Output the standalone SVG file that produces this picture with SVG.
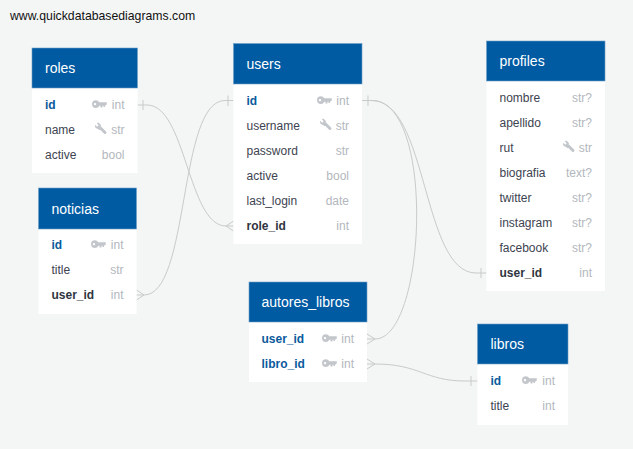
<svg xmlns="http://www.w3.org/2000/svg" width="633" height="449" viewBox="0 0 633 449">
<style>
text{font-family:"Liberation Sans",Arial,sans-serif}
.bg{fill:#f4f6f6}
.body{fill:#fff}
.head{fill:#005ba3;stroke:#6f9fc6;stroke-width:.6}
.title{font-size:14px;fill:#fff}
.f{font-size:12px;fill:#3d4350}
.pk{font-size:12px;font-weight:700;fill:#0b5a9c}
.fk{font-size:12px;font-weight:700;fill:#2f3540}
.t{font-size:12px;fill:#b3b7bd;text-anchor:end}
.c{fill:none;stroke:#c9caca;stroke-width:1}
.i{fill:#c3c7cc}
.w{fill:none;stroke:#c3c7cc;stroke-width:3;stroke-linecap:round}
</style>
<defs>
<g id="key"><path class="i" fill-rule="evenodd" d="M3.900-4.300A3.900 3.900 0 1 0 3.900 3.500 3.900 3.900 0 0 0 7.400 1.200H8.500V3H10.500V1.200H11.500V2.400H13V1.200L14.800-.1V-2.300H7.300A3.900 3.900 0 0 0 3.900-4.300ZM3-1.600A1.200 1.200 0 1 1 3 .8 1.200 1.200 0 0 1 3-1.600Z"/></g>
<g id="wrench"><path class="w" d="M4-1.500 9 3.500"/><path class="i" d="M2.600-6.200 5.200-3.700 4-2.500 5.500-.6 5.400 1 3.400 1 1.500-.3C-.4-.4-1.500-2.300-.9-4.300L1.200-2.300 2.700-3.700 .8-5.800C1.400-6.200 2-6.300 2.600-6.200Z"/></g>
</defs>
<rect class="bg" width="633" height="449"/>
<text x="10" y="20" style="font-size:12.250px;fill:#111">www.quickdatabasediagrams.com</text>
<g id="connectors">
<path class="c" d="M137.500 105H147C186 105 188 226 226 226H233.500M226 226 233.500 221M226 226 233.500 231M143 100V110"/>
<path class="c" d="M136.500 295H144C190 295 178 100.500 225 100.500H233.500M144 295 136.500 290M144 295 136.500 300M228 95.500V106"/>
<path class="c" d="M362 100.500H372C428 100.500 422 273 476 273H486.500M368 95.500V106M481 268V278"/>
<path class="c" d="M362 100.500H372C436 100.500 426 339 375 339H367M375 339 367 334M375 339 367 344"/>
<path class="c" d="M367 364H375C420 364 425 381 465 381H477.500M375 364 367 359M375 364 367 369M471 376V386"/>
</g>
<g id="roles">
<rect class="body" x="32" y="48" width="105.500" height="125"/><rect class="head" x="32" y="48" width="105.500" height="40"/>
<text class="title" x="45" y="73">roles</text>
<text class="pk" x="45" y="109">id</text><use href="#key" x="92" y="104.500"/><text class="t" x="124.500" y="109">int</text>
<text class="f" x="45" y="134">name</text><use href="#wrench" x="96" y="129"/><text class="t" x="124.500" y="134">str</text>
<text class="f" x="45" y="159">active</text><text class="t" x="124.500" y="159">bool</text>
</g>
<g id="noticias">
<rect class="body" x="38.500" y="188" width="98" height="126"/><rect class="head" x="38.500" y="188" width="98" height="41"/>
<text class="title" x="51.500" y="214">noticias</text>
<text class="pk" x="51.500" y="249">id</text><use href="#key" x="91" y="244.500"/><text class="t" x="123.500" y="249">int</text>
<text class="f" x="51.500" y="274">title</text><text class="t" x="123.500" y="274">str</text>
<text class="fk" x="51.500" y="299">user_id</text><text class="t" x="123.500" y="299">int</text>
</g>
<g id="users">
<rect class="body" x="233.500" y="43.500" width="128.500" height="200.500"/><rect class="head" x="233.500" y="43.500" width="128.500" height="40.500"/>
<text class="title" x="246.500" y="69">users</text>
<text class="pk" x="246.500" y="105">id</text><use href="#key" x="317" y="100.500"/><text class="t" x="349" y="105">int</text>
<text class="f" x="246.500" y="130">username</text><use href="#wrench" x="321" y="125"/><text class="t" x="349" y="130">str</text>
<text class="f" x="246.500" y="155">password</text><text class="t" x="349" y="155">str</text>
<text class="f" x="246.500" y="180">active</text><text class="t" x="349" y="180">bool</text>
<text class="f" x="246.500" y="205">last_login</text><text class="t" x="349" y="205">date</text>
<text class="fk" x="246.500" y="230">role_id</text><text class="t" x="349" y="230">int</text>
</g>
<g id="profiles">
<rect class="body" x="486.500" y="41" width="118.500" height="250"/><rect class="head" x="486.500" y="41" width="118.500" height="40"/>
<text class="title" x="499.500" y="66">profiles</text>
<text class="f" x="499.500" y="102">nombre</text><text class="t" x="592" y="102">str?</text>
<text class="f" x="499.500" y="127">apellido</text><text class="t" x="592" y="127">str?</text>
<text class="f" x="499.500" y="152">rut</text><use href="#wrench" x="564" y="147"/><text class="t" x="592" y="152">str</text>
<text class="f" x="499.500" y="177">biografia</text><text class="t" x="592" y="177">text?</text>
<text class="f" x="499.500" y="202">twitter</text><text class="t" x="592" y="202">str?</text>
<text class="f" x="499.500" y="227">instagram</text><text class="t" x="592" y="227">str?</text>
<text class="f" x="499.500" y="252">facebook</text><text class="t" x="592" y="252">str?</text>
<text class="fk" x="499.500" y="277">user_id</text><text class="t" x="592" y="277">int</text>
</g>
<g id="autores_libros">
<rect class="body" x="249" y="282" width="118" height="100"/><rect class="head" x="249" y="282" width="118" height="40"/>
<text class="title" x="261.500" y="307">autores_libros</text>
<text class="pk" x="261.500" y="343">user_id</text><use href="#key" x="322" y="338.500"/><text class="t" x="354" y="343">int</text>
<text class="pk" x="261.500" y="368">libro_id</text><use href="#key" x="322" y="363.500"/><text class="t" x="354" y="368">int</text>
</g>
<g id="libros">
<rect class="body" x="477.500" y="324" width="90.500" height="101"/><rect class="head" x="477.500" y="324" width="90.500" height="40"/>
<text class="title" x="490.500" y="349">libros</text>
<text class="pk" x="490.500" y="385">id</text><use href="#key" x="522" y="380.500"/><text class="t" x="555" y="385">int</text>
<text class="f" x="490.500" y="410">title</text><text class="t" x="555" y="410">int</text>
</g>
</svg>
